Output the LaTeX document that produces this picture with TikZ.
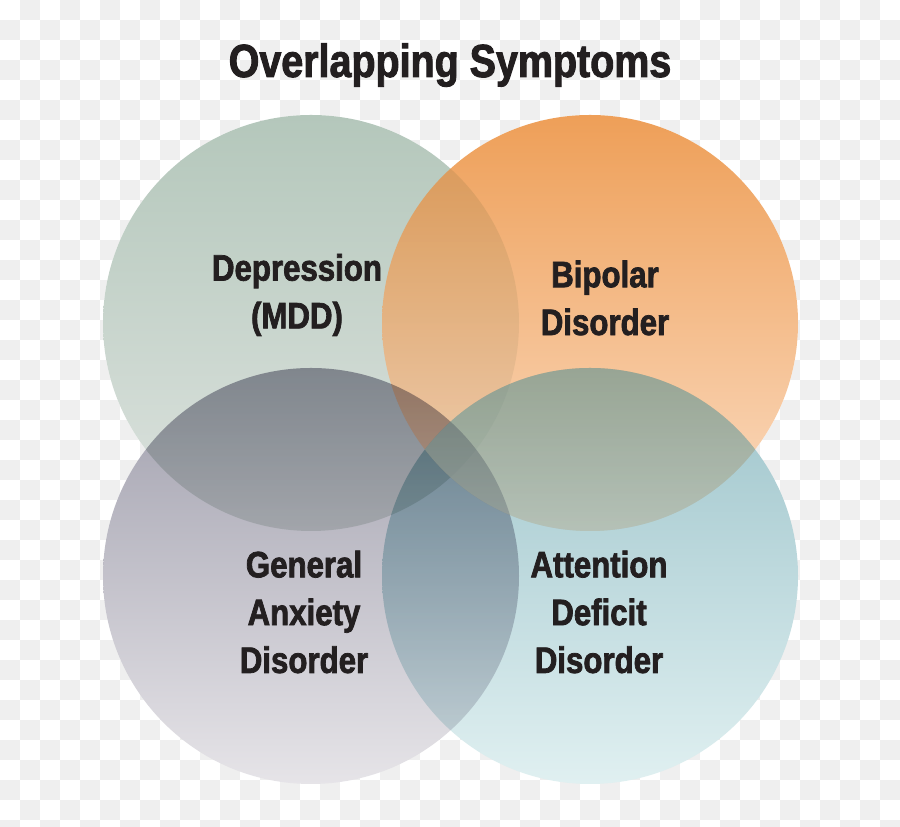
\documentclass[tikz,border=0pt]{standalone}
\usepackage{fontspec}
\newfontfamily\condfont[FakeStretch=0.85,FakeBold=2]{Liberation Sans}
\definecolor{inkblack}{HTML}{231F20}
\definecolor{checkgray}{HTML}{EFEFEF}
\definecolor{mddtop}{HTML}{B4C7BB}
\definecolor{mddbot}{HTML}{DDE3DF}
\definecolor{bpdtop}{HTML}{EE9F58}
\definecolor{bpdbot}{HTML}{FBDCC2}
\definecolor{gadtop}{HTML}{A09FAD}
\definecolor{gadbot}{HTML}{E6E4E8}
\definecolor{addtop}{HTML}{9CC3CA}
\definecolor{addbot}{HTML}{E0F0F1}

\begin{document}
\begin{tikzpicture}[x=0.02cm, y=0.02cm,
    heading/.style={font=\condfont\bfseries\fontsize{26.4}{30}\selectfont, text=inkblack, inner sep=0pt, anchor=base},
    disorder/.style={font=\condfont\bfseries\fontsize{20.9}{27.2}\selectfont, text=inkblack, align=center, inner sep=0pt}]
    \useasboundingbox (0,0) rectangle (900,827);

    % checkerboard backdrop
    \begin{scope}
        \clip (0,0) rectangle (900,827);
        \fill[white] (0,0) rectangle (900,827);
        \foreach \i in {0,...,44} {
            \foreach \j in {0,...,41} {
                \pgfmathtruncatemacro{\odd}{mod(\i+\j,2)}
                \ifnum\odd=1
                    \fill[checkgray] (20*\i,807-20*\j) rectangle ++(20,20);
                \fi
            }
        }
    \end{scope}

    % circle centres
    \coordinate (mdd) at (311,504);
    \coordinate (bpd) at (590,504);
    \coordinate (gad) at (311,251);
    \coordinate (add) at (590,251);

    % white underlay so the multiply blend keeps the plain colours
    \fill[white] (mdd) circle (208) (bpd) circle (208) (gad) circle (208) (add) circle (208);

    \shade[top color=mddtop, bottom color=mddbot] (mdd) circle (208);
    \shade[top color=bpdtop, bottom color=bpdbot] (bpd) circle (208);
    \begin{scope}
        \clip (bpd) circle (208);
        \shade[top color=mddtop, bottom color=mddbot, blend mode=multiply, opacity=0.3] (mdd) circle (208);
    \end{scope}
    \shade[top color=gadtop, bottom color=gadbot, blend mode=multiply] (gad) circle (208);
    \shade[top color=addtop, bottom color=addbot, blend mode=multiply] (add) circle (208);
    % lighter mix where the blue sits on the orange
    \begin{scope}
        \clip (bpd) circle (208);
        \shade[top color=addtop, bottom color=addbot, opacity=0.35] (add) circle (208);
    \end{scope}

    % labels
    \node[heading] (title) at (450,750) {Overlapping Symptoms};
    \node[disorder] (depr) at (297,532) {Depression\\(MDD)};
    \node[disorder] (bipolar) at (605,529) {Bipolar\\Disorder};
    \node[disorder] (anxiety) at (304,215) {General\\Anxiety\\Disorder};
    \node[disorder] (attention) at (599,215) {Attention\\Deficit\\Disorder};
\end{tikzpicture}
\end{document}
